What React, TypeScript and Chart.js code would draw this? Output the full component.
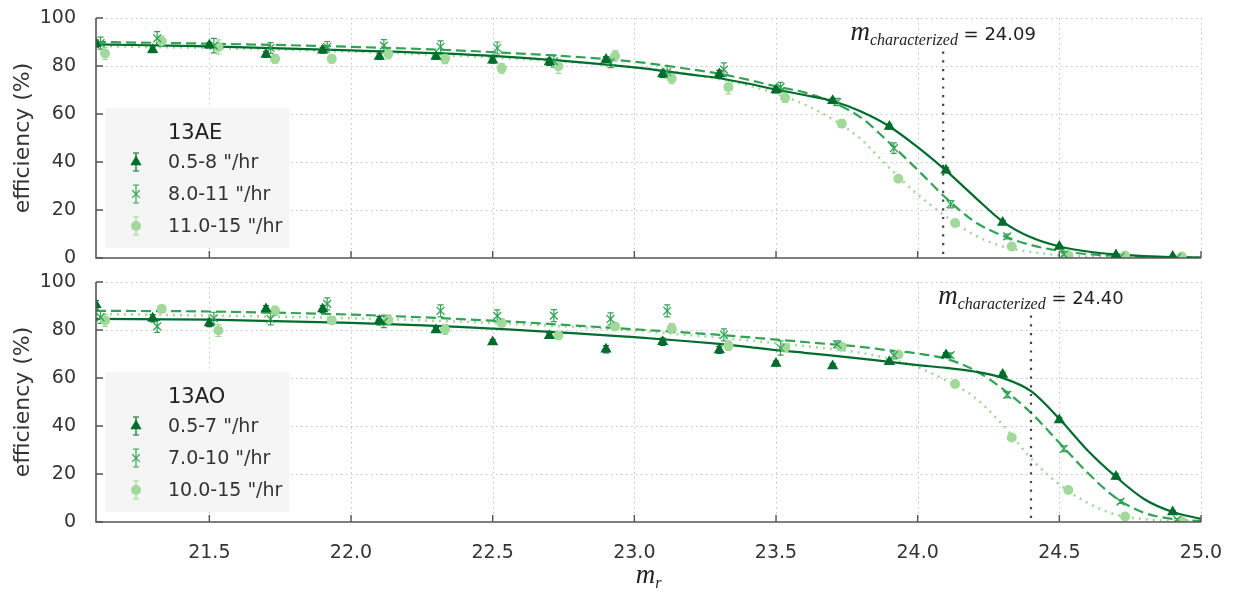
import React, { useEffect, useRef } from "react";
import { Chart, registerables } from "chart.js";

Chart.register(...registerables);

// ---------------- data ----------------
const binCenters = [21.1, 21.3, 21.5, 21.7, 21.9, 22.1, 22.3, 22.5, 22.7, 22.9, 23.1, 23.3, 23.5, 23.7, 23.9, 24.1, 24.3, 24.5, 24.7, 24.9];
const seriesShift = [0, 0.016, 0.032];
const curveMags = [21.1, 21.5, 22.0, 22.5, 23.0, 23.2, 23.3, 23.4, 23.5, 23.6, 23.7, 23.8, 23.9, 24.0, 24.1, 24.2, 24.3, 24.4, 24.5, 24.6, 24.7, 24.8, 24.9, 25.0];
const xTickValues = [21.5, 22.0, 22.5, 23.0, 23.5, 24.0, 24.5, 25.0];
const yTickValues = [0, 20, 40, 60, 80, 100];

// 13AE
const aeName = "13AE";
const aeCharacterized = 24.09;
const aeLabels = ['0.5-8 "/hr', '8.0-11 "/hr', '11.0-15 "/hr'];
const aeSlow = [89.3, 86.8, 88.6, 84.8, 86.6, 84.0, 84.0, 82.4, 81.7, 82.7, 76.7, 76.7, 70.0, 65.5, 54.8, 36.6, 14.8, 4.8, 1.2, 0.6];
const aeSlowErr = [1.5, 1.2, 1.2, 1.2, 1.2, 1.2, 1.2, 1.2, 1.5, 1.2, 1.5, 1.5, 1.2, 1.0, 1.0, 1.0, 0.8, 0.6, 0.3, 0.2];
const aeMid = [89.5, 91.5, 88.5, 87.5, 88.0, 88.5, 88.0, 87.5, 82.0, 81.5, 77.5, 78.5, 71.2, 65.0, 45.8, 22.4, 9.0, 1.5, 0.6, 0.3];
const aeMidErr = [2.5, 2.8, 3.0, 2.2, 2.2, 2.5, 2.5, 2.5, 2.5, 2.2, 2.5, 2.8, 2.0, 1.5, 2.2, 1.5, 1.0, 0.6, 0.3, 0.2];
const aeFast = [85.2, 90.3, 87.9, 83.0, 83.0, 85.0, 83.0, 79.0, 79.9, 84.2, 74.8, 71.2, 66.8, 56.0, 33.0, 14.6, 4.8, 1.0, 1.0, 0.6];
const aeFastErr = [2.5, 2.2, 3.0, 1.8, 1.8, 2.0, 2.0, 2.0, 3.0, 2.2, 2.2, 2.8, 2.0, 1.5, 1.2, 1.2, 0.8, 0.5, 0.3, 0.2];
const aeSlowFit = [89.0, 88.2, 86.5, 84.2, 79.4, 76.4, 74.9, 72.7, 70.2, 67.9, 65.4, 61.0, 54.8, 46.2, 36.4, 25.6, 15.2, 8.6, 4.8, 2.7, 1.5, 0.8, 0.4, 0.2];
const aeMidFit = [90.0, 89.3, 88.0, 85.8, 81.8, 78.6, 76.8, 74.3, 71.5, 69.0, 64.8, 58.5, 48.0, 36.7, 25.0, 15.2, 9.3, 5.4, 3.0, 1.6, 0.9, 0.5, 0.3, 0.1];
const aeFastFit = [88.3, 87.5, 86.0, 83.5, 79.5, 76.5, 74.5, 72.0, 68.5, 64.0, 57.8, 49.5, 37.5, 26.5, 17.3, 9.6, 4.8, 2.5, 1.2, 0.6, 0.3, 0.15, 0.05, 0.0];

// 13AO
const aoName = "13AO";
const aoCharacterized = 24.4;
const aoLabels = ['0.5-7 "/hr', '7.0-10 "/hr', '10.0-15 "/hr'];
const aoSlow = [90.5, 84.9, 82.9, 88.7, 88.7, 83.9, 80.0, 75.0, 77.6, 72.0, 75.1, 71.7, 66.0, 65.0, 66.8, 69.6, 61.5, 42.5, 19.0, 4.2];
const aoSlowErr = [1.8, 1.5, 1.5, 1.5, 1.5, 1.8, 1.0, 1.0, 1.0, 1.5, 1.5, 1.5, 1.0, 1.0, 1.0, 1.0, 1.0, 1.0, 1.0, 0.6];
const aoMid = [85.3, 81.5, 84.9, 84.6, 90.9, 83.5, 88.0, 85.9, 86.0, 84.6, 88.0, 78.0, 72.5, 74.0, 69.5, 69.5, 53.0, 30.5, 8.5, 1.0];
const aoMidErr = [2.5, 2.5, 2.5, 2.5, 2.5, 2.5, 2.5, 2.5, 2.5, 2.5, 2.5, 2.5, 3.0, 1.5, 1.5, 1.0, 1.2, 1.2, 0.8, 0.4];
const aoFast = [84.0, 88.8, 79.8, 88.0, 84.0, 84.2, 80.2, 82.9, 77.7, 81.5, 80.7, 73.5, 72.6, 73.0, 69.8, 57.5, 35.2, 13.3, 2.3, 0.3];
const aoFastErr = [2.5, 1.5, 2.5, 2.0, 1.5, 2.0, 2.0, 1.5, 1.5, 1.5, 2.0, 2.0, 1.5, 1.0, 1.0, 1.0, 1.0, 1.0, 0.8, 0.3];
const aoSlowFit = [84.6, 84.3, 83.0, 80.6, 77.0, 75.2, 74.2, 73.0, 71.6, 70.5, 69.3, 68.1, 66.7, 65.4, 64.2, 62.7, 60.0, 54.5, 43.0, 29.8, 18.8, 9.5, 4.2, 1.3];
const aoMidFit = [88.0, 87.7, 86.4, 83.9, 80.3, 78.8, 78.0, 77.0, 76.0, 75.0, 74.0, 73.0, 71.5, 70.2, 68.0, 63.3, 55.5, 45.5, 33.0, 20.5, 10.0, 3.8, 1.3, 0.4];
const aoFastFit = [86.7, 86.0, 84.9, 82.9, 79.8, 77.8, 76.8, 75.7, 74.5, 73.3, 72.0, 70.5, 68.0, 64.5, 59.0, 52.0, 40.5, 26.5, 15.6, 8.0, 3.0, 1.2, 0.4, 0.1];

// ---------------- styles ----------------
const FONT = "'DejaVu Sans', 'Open Sans', sans-serif";
const SERIF = "'Liberation Serif', 'DejaVu Serif', serif";
const TEXT = "#333333";
const COLORS = ["#006d2c", "#31a354", "#a1d99b"];
const MARKERS = ["triangle", "crossRot", "circle"];
const RADII = [6.5, 5.5, 5];
const FIT_DASH: number[][] = [[], [10, 5], [2, 5]];

type Panel = {
  name: string;
  characterized: number;
  labels: string[];
  values: number[][];
  errors: number[][];
  fits: number[][];
};

const panels: Panel[] = [
  {
    name: aeName,
    characterized: aeCharacterized,
    labels: aeLabels,
    values: [aeSlow, aeMid, aeFast],
    errors: [aeSlowErr, aeMidErr, aeFastErr],
    fits: [aeSlowFit, aeMidFit, aeFastFit],
  },
  {
    name: aoName,
    characterized: aoCharacterized,
    labels: aoLabels,
    values: [aoSlow, aoMid, aoFast],
    errors: [aoSlowErr, aoMidErr, aoFastErr],
    fits: [aoSlowFit, aoMidFit, aoFastFit],
  },
];

function drawMarker(ctx: CanvasRenderingContext2D, k: number, x: number, y: number) {
  ctx.save();
  ctx.fillStyle = COLORS[k];
  ctx.strokeStyle = COLORS[k];
  const r = RADII[k];
  ctx.beginPath();
  if (k === 0) {
    ctx.moveTo(x, y - r);
    ctx.lineTo(x + r * 0.866, y + r * 0.5);
    ctx.lineTo(x - r * 0.866, y + r * 0.5);
    ctx.closePath();
    ctx.fill();
  } else if (k === 1) {
    const d = r * 0.707;
    ctx.lineWidth = 1.3;
    ctx.moveTo(x - d, y - d);
    ctx.lineTo(x + d, y + d);
    ctx.moveTo(x + d, y - d);
    ctx.lineTo(x - d, y + d);
    ctx.stroke();
  } else {
    ctx.arc(x, y, r, 0, Math.PI * 2);
    ctx.fill();
  }
  ctx.restore();
}

function drawErrorBar(ctx: CanvasRenderingContext2D, color: string, x: number, y1: number, y2: number) {
  ctx.save();
  ctx.strokeStyle = color;
  ctx.lineWidth = 1.2;
  ctx.beginPath();
  ctx.moveTo(x, y1);
  ctx.lineTo(x, y2);
  ctx.moveTo(x - 3, y1);
  ctx.lineTo(x + 3, y1);
  ctx.moveTo(x - 3, y2);
  ctx.lineTo(x + 3, y2);
  ctx.stroke();
  ctx.restore();
}

function makeDeco(panel: Panel, isBottom: boolean) {
  return {
    id: "deco" + panel.name,
    beforeDatasetsDraw(chart: any) {
      const { ctx, chartArea: a, scales } = chart;
      const x = scales.x;
      const y = scales.y;
      ctx.save();
      // dotted grid
      ctx.strokeStyle = "#c4c4c4";
      ctx.lineWidth = 1;
      ctx.setLineDash([1.5, 3.5]);
      ctx.beginPath();
      xTickValues.forEach((t) => {
        const px = Math.round(x.getPixelForValue(t)) + 0.5;
        ctx.moveTo(px, a.top);
        ctx.lineTo(px, a.bottom);
      });
      yTickValues.forEach((t) => {
        if (t === 0) return;
        const py = Math.round(y.getPixelForValue(t)) + 0.5;
        ctx.moveTo(a.left, py);
        ctx.lineTo(a.right, py);
      });
      ctx.stroke();
      ctx.setLineDash([]);
      // error bars
      ctx.beginPath();
      ctx.rect(a.left, a.top - 10, a.right - a.left, a.bottom - a.top + 10);
      ctx.clip();
      chart.data.datasets.forEach((ds: any, i: number) => {
        if (!ds.errors) return;
        const meta = chart.getDatasetMeta(i);
        meta.data.forEach((el: any, j: number) => {
          const v = ds.data[j].y;
          const e = ds.errors[j];
          const y1 = y.getPixelForValue(v + e);
          const y2 = y.getPixelForValue(Math.max(v - e, 0));
          drawErrorBar(ctx, ds.pointBorderColor, el.x, y1, y2);
        });
      });
      ctx.restore();
    },
    afterDatasetsDraw(chart: any) {
      const { ctx, chartArea: a, scales } = chart;
      const x = scales.x;
      const y = scales.y;
      ctx.save();
      // characterized magnitude line
      const cx = x.getPixelForValue(panel.characterized);
      ctx.strokeStyle = "#444444";
      ctx.lineWidth = 2.2;
      ctx.setLineDash([2.2, 6.5]);
      ctx.beginPath();
      ctx.moveTo(cx, y.getPixelForValue(86));
      ctx.lineTo(cx, a.bottom);
      ctx.stroke();
      ctx.setLineDash([]);

      // spines
      ctx.strokeStyle = "#555555";
      ctx.lineWidth = 1.6;
      ctx.beginPath();
      ctx.moveTo(a.left, a.top);
      ctx.lineTo(a.left, a.bottom);
      ctx.lineTo(a.right, a.bottom);
      ctx.stroke();
      // inward ticks
      ctx.lineWidth = 1.4;
      ctx.beginPath();
      xTickValues.forEach((t) => {
        const px = x.getPixelForValue(t);
        ctx.moveTo(px, a.bottom);
        ctx.lineTo(px, a.bottom - 7);
      });
      yTickValues.forEach((t) => {
        const py = y.getPixelForValue(t);
        ctx.moveTo(a.left, py);
        ctx.lineTo(a.left + 7, py);
      });
      ctx.stroke();

      // annotation text
      const baseY = y.getPixelForValue(93.8) + 7;
      const mFont = `italic 27px ${SERIF}`;
      const subFont = `italic 16px ${SERIF}`;
      const valFont = `18px ${FONT}`;
      const valText = " = " + panel.characterized.toFixed(2);
      ctx.font = mFont;
      const wm = ctx.measureText("m").width;
      ctx.font = subFont;
      const ws = ctx.measureText("characterized").width;
      ctx.font = valFont;
      const wv = ctx.measureText(valText).width;
      let sx = cx - (wm + ws + wv) / 2;
      ctx.fillStyle = "#222222";
      ctx.textBaseline = "alphabetic";
      ctx.textAlign = "left";
      ctx.font = mFont;
      ctx.fillText("m", sx, baseY);
      sx += wm;
      ctx.font = subFont;
      ctx.fillText("characterized", sx, baseY + 5);
      sx += ws;
      ctx.font = valFont;
      ctx.fillText(valText, sx, baseY);

      // legend
      const bx = a.left + 9;
      const by = a.top + 90;
      ctx.font = `19px ${FONT}`;
      let maxW = 0;
      panel.labels.forEach((l) => (maxW = Math.max(maxW, ctx.measureText(l).width)));
      const bw = 72 + maxW + 7 - 9;
      ctx.fillStyle = "rgba(244,244,244,0.95)";
      ctx.fillRect(bx, by, bw, 140);
      ctx.fillStyle = "#222222";
      ctx.font = `21px ${FONT}`;
      ctx.fillText(panel.name, a.left + 72, by + 31);
      ctx.font = `19px ${FONT}`;
      panel.labels.forEach((l, k) => {
        const ry = by + 54 + k * 32;
        const mx = a.left + 40;
        drawErrorBar(ctx, COLORS[k], mx, ry - 9, ry + 9);
        drawMarker(ctx, k, mx, ry);
        ctx.fillStyle = TEXT;
        ctx.textBaseline = "middle";
        ctx.fillText(l, a.left + 72, ry + 1);
      });

      // y axis title
      ctx.save();
      ctx.translate(23, (a.top + a.bottom) / 2);
      ctx.rotate(-Math.PI / 2);
      ctx.textAlign = "center";
      ctx.textBaseline = "middle";
      ctx.fillStyle = TEXT;
      ctx.font = `22px ${FONT}`;
      ctx.fillText("efficiency (%)", 0, 0);
      ctx.restore();

      // x axis title
      if (isBottom) {
        const tx = (a.left + a.right) / 2;
        const ty = a.bottom + 61;
        ctx.font = mFont;
        const w1 = ctx.measureText("m").width;
        ctx.font = subFont;
        const w2 = ctx.measureText("r").width;
        let s = tx - (w1 + w2) / 2;
        ctx.fillStyle = "#222222";
        ctx.textBaseline = "alphabetic";
        ctx.font = mFont;
        ctx.fillText("m", s, ty);
        s += w1;
        ctx.font = subFont;
        ctx.fillText("r", s, ty + 5);
      }
      ctx.restore();
    },
  };
}

function buildConfig(panel: Panel, isBottom: boolean): any {
  const datasets: any[] = [];
  panel.values.forEach((vals, k) => {
    datasets.push({
      label: panel.labels[k],
      data: binCenters.map((m, j) => ({ x: m + seriesShift[k], y: vals[j] })),
      errors: panel.errors[k],
      showLine: false,
      pointStyle: MARKERS[k],
      pointRadius: RADII[k],
      pointHoverRadius: RADII[k],
      pointBackgroundColor: COLORS[k],
      pointBorderColor: COLORS[k],
      pointBorderWidth: k === 1 ? 1.3 : 0,
      order: 0,
    });
  });
  panel.fits.forEach((fit, k) => {
    datasets.push({
      label: panel.labels[k] + " fit",
      data: curveMags.map((m, j) => ({ x: m, y: fit[j] })),
      showLine: true,
      pointRadius: 0,
      borderColor: COLORS[k],
      borderWidth: k === 2 ? 2.6 : 2.2,
      borderDash: FIT_DASH[k],
      cubicInterpolationMode: "monotone",
      fill: false,
      order: 1,
    });
  });
  return {
    type: "scatter",
    data: { datasets },
    options: {
      responsive: false,
      animation: false,
      events: [],
      layout: { padding: { top: isBottom ? 12 : 18, right: 42, left: 0, bottom: 0 } },
      plugins: { legend: { display: false }, tooltip: { enabled: false } },
      scales: {
        x: {
          type: "linear",
          min: 21.1,
          max: 25.0,
          grid: { display: false },
          border: { display: false },
          afterBuildTicks: (s: any) => {
            s.ticks = xTickValues.map((v) => ({ value: v }));
          },
          afterFit: (s: any) => {
            s.height = isBottom ? 75 : 12;
            s.paddingLeft = 0;
            s.paddingRight = 0;
          },
          ticks: {
            display: isBottom,
            padding: 12,
            color: TEXT,
            font: { family: FONT, size: 19 },
            maxRotation: 0,
            autoSkip: false,
            callback: (v: any) => Number(v).toFixed(1),
          },
        },
        y: {
          type: "linear",
          min: 0,
          max: 100,
          grid: { display: false },
          border: { display: false },
          afterBuildTicks: (s: any) => {
            s.ticks = yTickValues.map((v) => ({ value: v }));
          },
          afterFit: (s: any) => {
            s.width = 96;
            s.paddingTop = 0;
            s.paddingBottom = 0;
          },
          ticks: {
            padding: 12,
            color: TEXT,
            font: { family: FONT, size: 19 },
            autoSkip: false,
            callback: (v: any) => String(v),
          },
        },
      },
    },
    plugins: [makeDeco(panel, isBottom)],
  };
}

function PanelChart({ panel, isBottom, top, height }: { panel: Panel; isBottom: boolean; top: number; height: number }) {
  const ref = useRef<HTMLCanvasElement | null>(null);
  useEffect(() => {
    if (!ref.current) return;
    const chart = new Chart(ref.current, buildConfig(panel, isBottom));
    return () => chart.destroy();
  }, [panel, isBottom]);
  return (
    <canvas
      ref={ref}
      width={1243}
      height={height}
      style={{ position: "absolute", left: 0, top, width: 1243, height }}
    />
  );
}

export default function App() {
  return (
    <div style={{ position: "fixed", left: 0, top: 0, width: 1243, height: 597, background: "#ffffff", overflow: "hidden" }}>
      <PanelChart panel={panels[0]} isBottom={false} top={0} height={270} />
      <PanelChart panel={panels[1]} isBottom={true} top={270} height={327} />
    </div>
  );
}
